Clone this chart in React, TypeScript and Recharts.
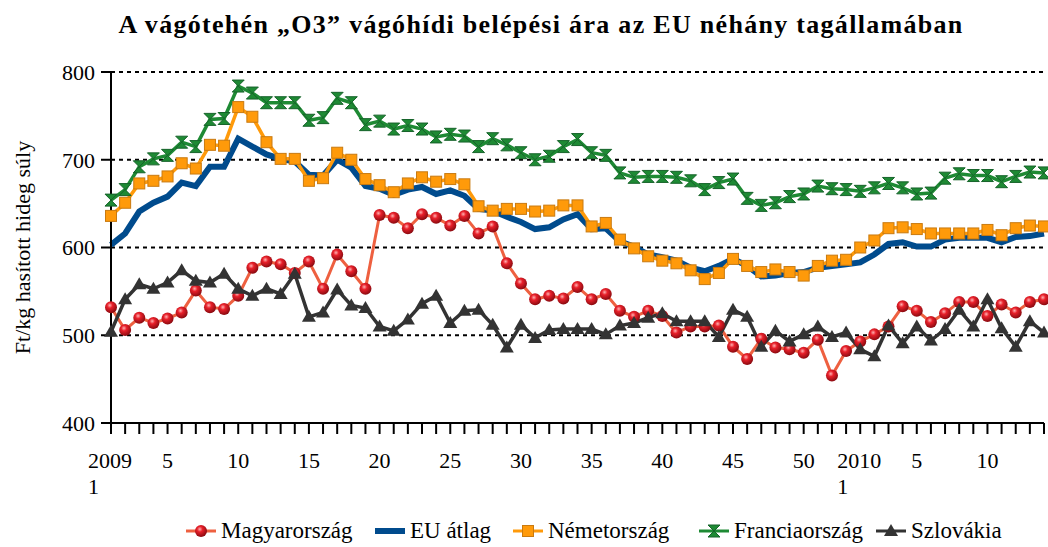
import React from "react";
import { LineChart, Line, XAxis, YAxis, CartesianGrid } from "recharts";

// 2009: 53 weeks, 2010: weeks 1-14
const weeks = [
  1, 2, 3, 4, 5, 6, 7, 8, 9, 10, 11, 12, 13, 14, 15, 16, 17, 18, 19, 20,
  21, 22, 23, 24, 25, 26, 27, 28, 29, 30, 31, 32, 33, 34, 35, 36, 37, 38, 39, 40,
  41, 42, 43, 44, 45, 46, 47, 48, 49, 50, 51, 52, 53,
  1, 2, 3, 4, 5, 6, 7, 8, 9, 10, 11, 12, 13, 14,
];

const hungary = [
  532, 506, 520, 514, 519, 526, 551, 532, 530, 545, 577, 584, 581, 571, 584, 553, 592, 573, 553, 637,
  634, 622, 638, 634, 625, 636, 616, 624, 582, 559, 541, 545, 542, 555, 541, 547, 528, 521, 528, 522,
  503, 510, 510, 511, 487, 473, 496, 486, 484, 480, 495, 454, 482, 493, 501, 510, 533, 528, 515, 525,
  538, 538, 522, 535, 526, 538, 541,
];

const euAvg = [
  603, 616, 641, 651, 658, 674, 670, 692, 692, 724, 715, 706, 701, 698, 683, 682, 700, 691, 670, 667,
  660, 666, 669, 661, 665, 659, 644, 642, 635, 629, 621, 623, 632, 638, 621, 622, 607, 601, 592, 589,
  585, 577, 573, 579, 587, 579, 567, 568, 571, 572, 577, 579, 581, 583, 592, 604, 606, 601, 601, 609,
  611, 611, 611, 606, 612, 613, 616,
];

const germany = [
  636, 651, 673, 676, 681, 696, 690, 717, 716, 760, 749, 720, 701, 701, 676, 679, 708, 700, 678, 671,
  663, 673, 680, 675, 678, 672, 647, 642, 644, 644, 641, 642, 648, 648, 624, 628, 609, 599, 590, 585,
  582, 574, 564, 571, 587, 579, 572, 575, 572, 568, 579, 585, 586, 600, 608, 622, 623, 621, 616, 616,
  616, 616, 620, 614, 622, 625, 624,
];

const france = [
  654, 666, 692, 701, 705, 720, 715, 746, 747, 784, 776, 765, 765, 765, 745, 748, 770, 765, 740, 744,
  735, 739, 735, 726, 729, 727, 715, 724, 717, 708, 700, 704, 715, 723, 708, 705, 685, 680, 681, 681,
  680, 676, 666, 674, 678, 656, 648, 651, 658, 661, 670, 667, 666, 664, 668, 673, 668, 661, 662, 679,
  684, 682, 682, 675, 681, 686, 685,
];

const slovakia = [
  504, 541, 558, 553, 560, 574, 562, 560, 570, 553, 545, 553, 547, 570, 521, 526, 552, 534, 531, 510,
  505, 518, 536, 545, 514, 528, 529, 512, 486, 512, 497, 506, 507, 507, 507, 501, 511, 514, 520, 525,
  516, 516, 516, 498, 529, 521, 487, 505, 493, 501, 510, 498, 503, 484, 476, 511, 491, 510, 494, 507,
  529, 510, 541, 508, 487, 516, 503,
];

const yTicks = [400, 500, 600, 700, 800];
const tickIndex = [0, 4, 9, 14, 19, 24, 29, 34, 39, 44, 49, 53, 57, 62];
const tickText = [
  ["2009", "1"], ["5"], ["10"], ["15"], ["20"], ["25"], ["30"], ["35"], ["40"], ["45"], ["50"],
  ["2010", "1"], ["5"], ["10"],
];

const data = weeks.map((w, i) => ({
  i,
  week: w,
  hu: hungary[i],
  eu: euAvg[i],
  de: germany[i],
  fr: france[i],
  sk: slovakia[i],
}));

const FONT = "'Liberation Serif', 'DejaVu Serif', serif";

const RedDot = (p: any) => {
  const { cx, cy } = p;
  if (cx == null || cy == null) return null;
  return <circle cx={cx} cy={cy} r={6} fill="url(#redBall)" />;
};

const SquareDot = (p: any) => {
  const { cx, cy } = p;
  if (cx == null || cy == null) return null;
  return <rect x={cx - 5.5} y={cy - 5.5} width={11} height={11} fill="#FF9A0A" stroke="#C97A10" strokeWidth={1} />;
};

const HourglassDot = (p: any) => {
  const { cx, cy } = p;
  if (cx == null || cy == null) return null;
  return (
    <path
      d={`M${cx - 6},${cy - 6} L${cx + 6},${cy - 6} L${cx},${cy} Z M${cx - 6},${cy + 6} L${cx + 6},${cy + 6} L${cx},${cy} Z`}
      fill="#1E8A34"
      stroke="#16632A"
      strokeWidth={1}
    />
  );
};

const TriangleDot = (p: any) => {
  const { cx, cy } = p;
  if (cx == null || cy == null) return null;
  return <path d={`M${cx},${cy - 7} L${cx + 7},${cy + 5} L${cx - 7},${cy + 5} Z`} fill="#333333" />;
};

const XTick = (p: any) => {
  const { x, y, payload } = p;
  const k = tickIndex.indexOf(payload.value);
  if (k < 0) return null;
  const lines = tickText[k];
  if (lines.length === 2) {
    const left = x - 23;
    return (
      <g>
        <text x={left} y={y + 32} fontFamily={FONT} fontSize={22} fill="#000" textAnchor="start">{lines[0]}</text>
        <text x={left} y={y + 58} fontFamily={FONT} fontSize={22} fill="#000" textAnchor="start">{lines[1]}</text>
      </g>
    );
  }
  return (
    <text x={x} y={y + 32} fontFamily={FONT} fontSize={22} fill="#000" textAnchor="middle">{lines[0]}</text>
  );
};

const legendItems = [
  { name: "Magyarország", color: "#EE6040", icon: "ball", left: 186 },
  { name: "EU átlag", color: "#004B8D", icon: "none", left: 375 },
  { name: "Németország", color: "#FF9A0A", icon: "square", left: 513 },
  { name: "Franciaország", color: "#1E8A34", icon: "hourglass", left: 699 },
  { name: "Szlovákia", color: "#333333", icon: "triangle", left: 876 },
];

const LegendIcon = ({ color, icon }: { color: string; icon: string }) => (
  <svg width={30} height={16} style={{ marginRight: 5 }}>
    <line x1={0} y1={8} x2={30} y2={8} stroke={color} strokeWidth={icon === "none" ? 6 : 3} />
    {icon === "ball" && <circle cx={15} cy={8} r={6} fill="url(#redBall)" />}
    {icon === "square" && <rect x={9.5} y={2.5} width={11} height={11} fill="#FF9A0A" stroke="#C97A10" />}
    {icon === "hourglass" && (
      <path d="M9,2 L21,2 L15,8 Z M9,14 L21,14 L15,8 Z" fill="#1E8A34" stroke="#16632A" />
    )}
    {icon === "triangle" && <path d="M15,1 L22,13 L8,13 Z" fill="#333333" />}
  </svg>
);

export default function App() {
  return (
    <div style={{ position: "absolute", left: 0, top: 0, width: 1048, height: 547, background: "#fff", fontFamily: FONT }}>
      <svg width={0} height={0} style={{ position: "absolute" }}>
        <defs>
          <radialGradient id="redBall" cx="40%" cy="35%" r="65%">
            <stop offset="0%" stopColor="#FFB0B0" />
            <stop offset="35%" stopColor="#E8202A" />
            <stop offset="100%" stopColor="#8A0A10" />
          </radialGradient>
        </defs>
      </svg>
      <div
        style={{
          position: "absolute",
          top: 10,
          left: 0,
          width: 1082,
          textAlign: "center",
          fontSize: 26,
          letterSpacing: 1.3,
          fontWeight: "bold",
          fontFamily: FONT,
          lineHeight: "30px",
        }}
      >
        A vágótehén „O3” vágóhídi belépési ára az EU néhány tagállamában
      </div>
      <div style={{ position: "absolute", left: 0, top: 0 }}>
        <LineChart width={1048} height={547} data={data} margin={{ top: 72, right: 4, left: 0, bottom: 0 }}>
          <CartesianGrid horizontal vertical={false} stroke="#000" strokeWidth={2} strokeDasharray="4 4" />
          <XAxis
            dataKey="i"
            type="number"
            domain={[0, 66]}
            ticks={weeks.map((_, i) => i)}
            interval={0}
            height={124}
            tickSize={11}
            tickLine={{ stroke: "#000", strokeWidth: 2 }}
            axisLine={{ stroke: "#000", strokeWidth: 2 }}
            tick={<XTick />}
          />
          <YAxis
            domain={[400, 800]}
            ticks={yTicks}
            width={111}
            tickSize={10}
            tickMargin={6}
            tickLine={{ stroke: "#000", strokeWidth: 2 }}
            axisLine={{ stroke: "#000", strokeWidth: 2 }}
            tick={{ fill: "#000", fontSize: 22, fontFamily: FONT }}
            label={{
              value: "Ft/kg hasított hideg súly",
              angle: -90,
              position: "insideLeft",
              offset: 22,
              style: { textAnchor: "middle", fontSize: 22, fontFamily: FONT, fill: "#000" },
            }}
          />
          <Line dataKey="hu" stroke="#EE6040" strokeWidth={3} dot={<RedDot />} isAnimationActive={false} />
          <Line dataKey="eu" stroke="#004B8D" strokeWidth={6} dot={false} isAnimationActive={false} />
          <Line dataKey="de" stroke="#FF9A0A" strokeWidth={3.5} dot={<SquareDot />} isAnimationActive={false} />
          <Line dataKey="fr" stroke="#1E8A34" strokeWidth={3.5} dot={<HourglassDot />} isAnimationActive={false} />
          <Line dataKey="sk" stroke="#333333" strokeWidth={3.5} dot={<TriangleDot />} isAnimationActive={false} />
        </LineChart>
      </div>
      {legendItems.map((it) => (
        <div
          key={it.name}
          style={{
            position: "absolute",
            top: 518,
            left: it.left,
            display: "flex",
            alignItems: "center",
            fontSize: 23,
            fontFamily: FONT,
            lineHeight: "26px",
            whiteSpace: "nowrap",
          }}
        >
          <LegendIcon color={it.color} icon={it.icon} />
          <span>{it.name}</span>
        </div>
      ))}
    </div>
  );
}
